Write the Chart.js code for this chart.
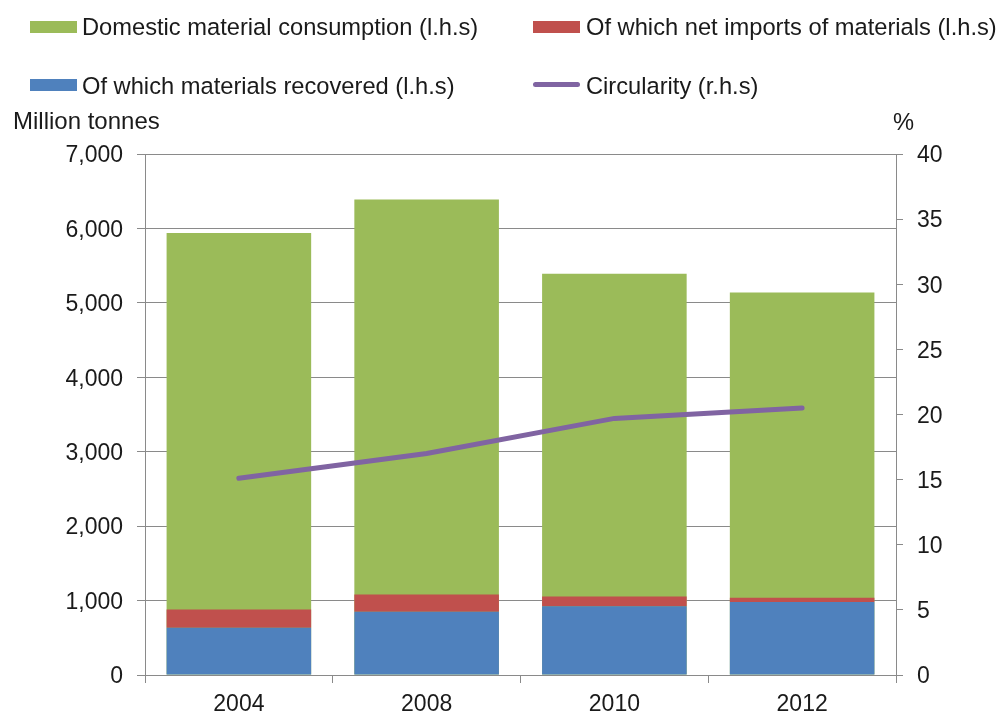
<!DOCTYPE html>
<html>
<head>
<meta charset="utf-8">
<script src="https://cdn.jsdelivr.net/npm/chart.js@4.4.1/dist/chart.umd.min.js"></script>
<style>
  body { margin: 0; background: #fff; }
  #wrap { position: relative; width: 999px; height: 714px; font-family: "Liberation Sans", Arial, sans-serif; color: #1a1a1a; }
  #wrap canvas { position: absolute; left: 0; top: 0; }
  .lbl { position: absolute; font-size: 23.7px; line-height: 26px; white-space: nowrap; }
  .box { position: absolute; width: 47px; height: 12px; }
  .ln  { position: absolute; width: 47px; height: 5px; border-radius: 3px; }
</style>
</head>
<body>
<div id="wrap">
  <canvas id="chart" width="999" height="714"></canvas>

  <div class="box" style="left:30px; top:21px; background:#9BBB59"></div>
  <div class="lbl" style="left:82px; top:14px">Domestic material consumption (l.h.s)</div>
  <div class="box" style="left:533px; top:21px; background:#C0504D"></div>
  <div class="lbl" style="left:586px; top:14px">Of which net imports of materials (l.h.s)</div>

  <div class="box" style="left:30px; top:79px; background:#4F81BD"></div>
  <div class="lbl" style="left:82px; top:73px">Of which materials recovered (l.h.s)</div>
  <div class="ln" style="left:533px; top:82px; background:#8064A2"></div>
  <div class="lbl" style="left:586px; top:73px">Circularity (r.h.s)</div>

  <div class="lbl" style="left:13px; top:108px; font-size:24px">Million tonnes</div>
  <div class="lbl" style="left:893px; top:109px">%</div>
</div>

<script>
// ----- データ -----
const years       = ['2004', '2008', '2010', '2012'];
const dmcTotal    = [5940, 6390, 5390, 5140];   // Domestic material consumption
const netImports  = [245, 232, 130, 58];        // of which net imports
const recovered   = [635, 850, 925, 980];       // of which materials recovered
const circularity = [15.1, 17.0, 19.7, 20.5];   // %

const leftTicks  = { min: 0, max: 7000, step: 1000 };
const rightTicks = { min: 0, max: 40, step: 5 };

const GRID = '#8a8a8a';
const TXT  = '#1a1a1a';
const tickFont = { family: '"Liberation Sans", Arial, sans-serif', size: 23 };

// 棒は重ねて描く（grouped:false）。緑＝総量、青・赤は内訳として積み上げ
const barCommon = { grouped: false, barPercentage: 0.77, categoryPercentage: 1, borderWidth: 0 };

new Chart(document.getElementById('chart'), {
  type: 'bar',
  data: {
    labels: years,
    datasets: [
      { ...barCommon, label: 'Of which materials recovered (l.h.s)', data: recovered,
        backgroundColor: '#4F81BD', stack: 'parts', order: 1 },
      { ...barCommon, label: 'Of which net imports of materials (l.h.s)', data: netImports,
        backgroundColor: '#C0504D', stack: 'parts', order: 2 },
      { ...barCommon, label: 'Domestic material consumption (l.h.s)', data: dmcTotal,
        backgroundColor: '#9BBB59', stack: 'dmc', order: 3 },
      { type: 'line', label: 'Circularity (r.h.s)', data: circularity, yAxisID: 'y1',
        borderColor: '#8064A2', borderWidth: 5, pointRadius: 0, tension: 0,
        borderCapStyle: 'round', fill: false, order: 0 }
    ]
  },
  options: {
    responsive: false,
    animation: false,
    layout: { padding: { top: 154, left: 0, right: 0, bottom: 0 } },
    plugins: { legend: { display: false }, tooltip: { enabled: false } },
    scales: {
      x: {
        offset: true,
        grid: { offset: true, drawOnChartArea: false, drawTicks: true, tickLength: 8, color: GRID },
        border: { display: true, color: GRID },
        ticks: { color: TXT, font: tickFont, padding: 8 },
        afterFit: s => { s.height = 39; }
      },
      y: {
        position: 'left', stacked: true,
        min: leftTicks.min, max: leftTicks.max,
        grid: { color: GRID, tickLength: 8 },
        border: { display: true, color: GRID },
        ticks: { stepSize: leftTicks.step, color: TXT, font: tickFont, padding: 14, labelOffset: 2,
                 callback: v => v.toLocaleString('en-US') },
        afterFit: s => { s.width = 145; }
      },
      y1: {
        position: 'right',
        min: rightTicks.min, max: rightTicks.max,
        grid: { drawOnChartArea: false, tickLength: 7, color: GRID },
        border: { display: true, color: GRID },
        ticks: { stepSize: rightTicks.step, color: TXT, font: tickFont, padding: 14, labelOffset: 2 },
        afterFit: s => { s.width = 103; }
      }
    }
  }
});
</script>
</body>
</html>
